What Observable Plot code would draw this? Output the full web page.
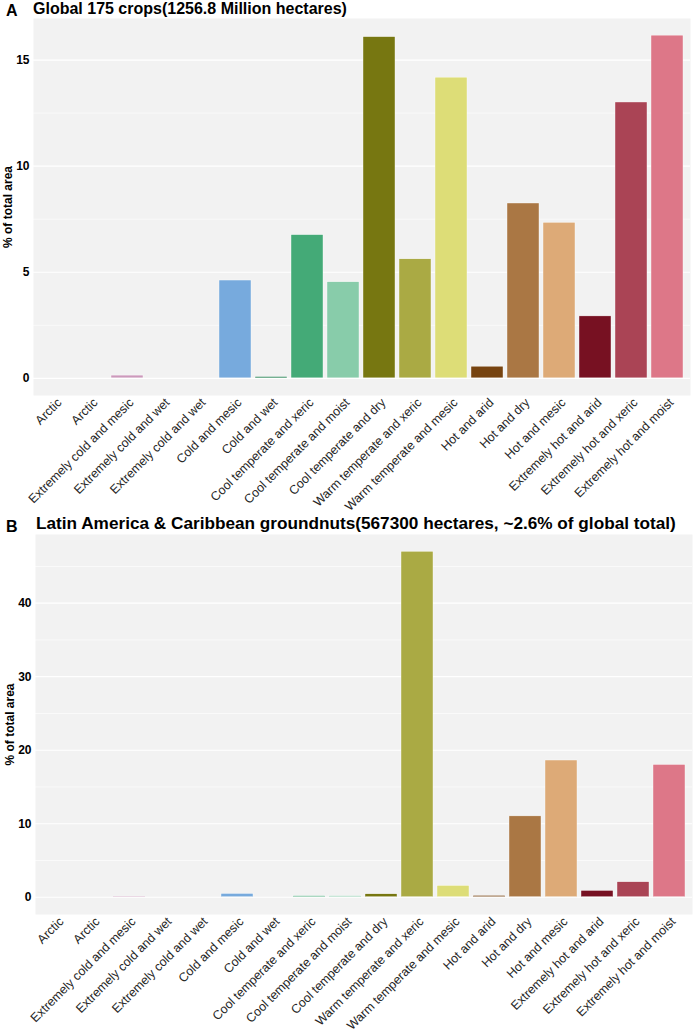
<!DOCTYPE html>
<html>
<head>
<meta charset="utf-8">
<script src="https://cdn.jsdelivr.net/npm/d3@7"></script>
<script src="https://cdn.jsdelivr.net/npm/@observablehq/plot@0.6"></script>
<style>
  html, body { margin: 0; padding: 0; background: #fff; }
  body { font-family: "Liberation Sans", Arial, Helvetica, sans-serif; }
  #wrap { width: 696px; height: 1035px; position: relative; overflow: hidden; }
  .title { position: relative; height: 18px; white-space: nowrap; }
  .title span { position: absolute; font-weight: bold; line-height: 1; color: #000; }
  svg { display: block; }
</style>
</head>
<body>
<div id="wrap"></div>
<script>
// ---- data ----
const categories = [
  "Arctic", "Arctic", "Extremely cold and mesic", "Extremely cold and wet",
  "Extremely cold and wet", "Cold and mesic", "Cold and wet",
  "Cool temperate and xeric", "Cool temperate and moist", "Cool temperate and dry",
  "Warm temperate and xeric", "Warm temperate and mesic", "Hot and arid",
  "Hot and dry", "Hot and mesic", "Extremely hot and arid",
  "Extremely hot and xeric", "Extremely hot and moist"
];
const zoneColors = [
  "#771155", "#AA4488", "#CC99BB", "#114477", "#4477AA", "#77AADD", "#117744",
  "#44AA77", "#88CCAA", "#777711", "#AAAA44", "#DDDD77", "#774411", "#AA7744",
  "#DDAA77", "#771122", "#AA4455", "#DD7788"
];
// Panel A: Global 175 crops
const globalValues = [0, 0, 0.13, 0, 0, 4.61, 0.06, 6.75, 4.53, 16.08, 5.61, 14.17, 0.55, 8.24, 7.33, 2.92, 13.0, 16.15];
const globalMajorTicks = [0, 5, 10, 15];
const globalMinorTicks = [2.5, 7.5, 12.5];
// Panel B: Latin America & Caribbean groundnuts
const latamValues = [0, 0, 0.08, 0, 0, 0.45, 0, 0.14, 0.14, 0.4, 47.0, 1.54, 0.18, 11.0, 18.6, 0.86, 2.04, 18.0];
const latamMajorTicks = [0, 10, 20, 30, 40];
const latamMinorTicks = [5, 15, 25, 35, 45];

const titleA = "Global 175 crops(1256.8 Million hectares)";
const titleB = "Latin America & Caribbean groundnuts(567300 hectares, ~2.6% of global total)";
const yLabel = "% of total area";

const FONT = "'Liberation Sans', Arial, Helvetica, sans-serif";

function titleRow(tag, text, tagBaseline, textBaseline, textLeft, textSize) {
  const div = document.createElement("div");
  div.className = "title";
  const tagSize = 16;
  const t = document.createElement("span");
  t.textContent = tag;
  t.style.fontSize = tagSize + "px";
  t.style.left = "6px";
  t.style.top = (tagBaseline - 0.8465 * tagSize) + "px";
  const s = document.createElement("span");
  s.textContent = text;
  s.style.fontSize = textSize + "px";
  s.style.left = textLeft + "px";
  s.style.top = (textBaseline - 0.8465 * textSize) + "px";
  div.appendChild(t);
  div.appendChild(s);
  return div;
}

function panel(values, majorTicks, minorTicks, o) {
  const data = values.map((v, i) => ({i, v, color: zoneColors[i]}));
  const ymax = d3.max(values);
  return Plot.plot({
    width: 696,
    height: o.height,
    marginTop: 0,
    marginBottom: o.marginBottom,
    marginLeft: o.marginLeft,
    marginRight: o.marginRight,
    style: {fontFamily: FONT, background: "transparent", overflow: "visible"},
    x: {type: "band", domain: d3.range(categories.length), paddingInner: 0.1, paddingOuter: 0.15},
    y: {domain: [-0.05 * ymax, 1.05 * ymax]},
    color: {type: "identity"},
    marks: [
      Plot.frame({fill: "#f2f2f2", stroke: null}),
      Plot.gridY(minorTicks, {stroke: "#ffffff", strokeOpacity: 1, strokeWidth: 0.6}),
      Plot.gridY(majorTicks, {stroke: "#ffffff", strokeOpacity: 1, strokeWidth: 1.2}),
      Plot.barY(data, {x: "i", y: "v", fill: "color", stroke: "#ffffff", strokeWidth: 0.4}),
      Plot.axisY(majorTicks, {
        tickSize: 0, tickPadding: 4, fontSize: 12, fontWeight: "bold", fill: "#000",
        label: yLabel, labelAnchor: "center", labelArrow: "none", labelOffset: 30
      }),
      Plot.axisX({
        tickRotate: -45, tickSize: 0, tickPadding: 5, dx: 4, fontSize: 12.5, fill: "#262626",
        tickFormat: i => categories[i], label: null
      })
    ]
  });
}

const wrap = document.getElementById("wrap");
wrap.appendChild(titleRow("A", titleA, 17, 15, 33, 16));
wrap.appendChild(panel(globalValues, globalMajorTicks, globalMinorTicks,
  {height: 498, marginBottom: 121, marginLeft: 33, marginRight: 6}));
wrap.appendChild(titleRow("B", titleB, 17, 14, 36, 17.2));
wrap.appendChild(panel(latamValues, latamMajorTicks, latamMinorTicks,
  {height: 501, marginBottom: 121, marginLeft: 35, marginRight: 4}));
</script>
</body>
</html>
